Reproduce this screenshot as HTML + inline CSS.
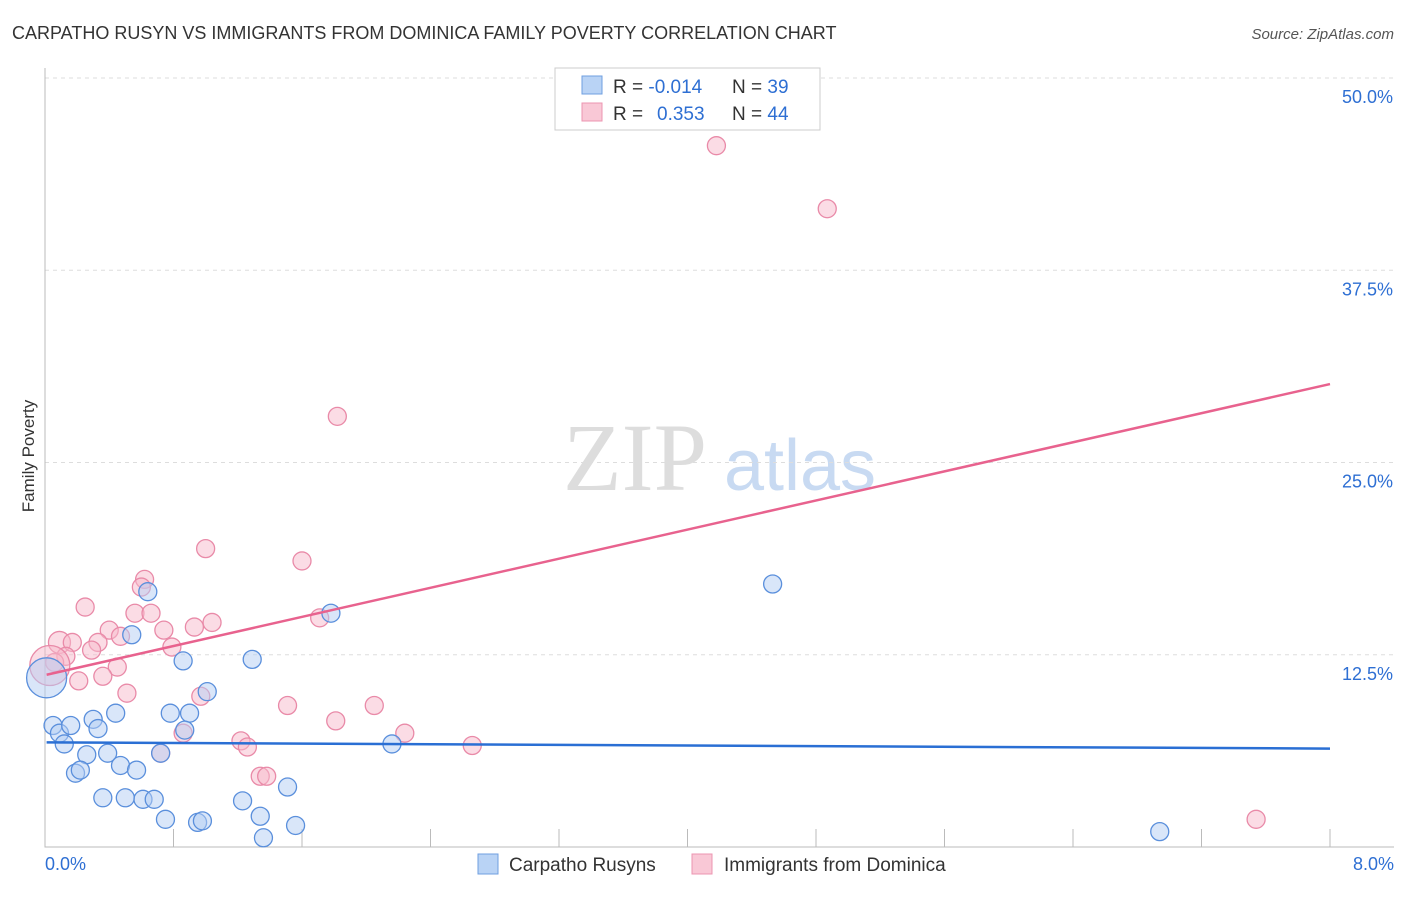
<!DOCTYPE html>
<html><head><meta charset="utf-8"><style>
body{margin:0;background:#fff;font-family:"Liberation Sans",sans-serif}
</style></head><body>
<svg id="c" width="1406" height="892" xmlns="http://www.w3.org/2000/svg" style="font-family:'Liberation Sans',sans-serif">
<text x="12" y="39" font-size="18" fill="#333">CARPATHO RUSYN VS IMMIGRANTS FROM DOMINICA FAMILY POVERTY CORRELATION CHART</text>
<text x="1394" y="39" font-size="15" fill="#555" font-style="italic" text-anchor="end">Source: ZipAtlas.com</text>
<text x="34" y="456" font-size="17" fill="#333" transform="rotate(-90 34 456)" text-anchor="middle">Family Poverty</text>
<g><text x="635" y="490" font-size="96" fill="#ddd" font-family="Liberation Serif" text-anchor="middle">ZIP</text><text x="800" y="490" font-size="72" fill="#c8daf2" text-anchor="middle">atlas</text></g>
<g id="grid"></g><g id="axes"></g><g id="marks"></g>
<g>
<rect x="555" y="68" width="265" height="62" fill="#fff" stroke="#ccc"/>
<rect x="582" y="76" width="20" height="18" fill="#b9d3f5" stroke="#6f9fe0"/>
<rect x="582" y="103" width="20" height="18" fill="#f9c8d6" stroke="#ec95b0"/>
<text x="613" y="93" font-size="19" fill="#333">R = <tspan fill="#2e6fd3">-0.014</tspan><tspan x="732">N = </tspan><tspan fill="#2e6fd3">39</tspan></text>
<text x="613" y="120" font-size="19" fill="#333">R = <tspan fill="#2e6fd3" x="657">0.353</tspan><tspan x="732">N = </tspan><tspan fill="#2e6fd3">44</tspan></text>
</g>
<g>
<rect x="478" y="854" width="20" height="20" fill="#b9d3f5" stroke="#6f9fe0"/>
<text x="509" y="871" font-size="19" fill="#333">Carpatho Rusyns</text>
<rect x="692" y="854" width="20" height="20" fill="#f9c8d6" stroke="#ec95b0"/>
<text x="724" y="871" font-size="19" fill="#333">Immigrants from Dominica</text>
</g>
</svg>
<script>
const yTicks=[12.5,25,37.5,50];
const yTickLabels=["12.5%","25.0%","37.5%","50.0%"];
const xTickLabels=["0.0%","8.0%"];
const blueX=[.05,.01,.09,.16,.12,.30,.33,.26,.19,.22,.39,.44,.47,.36,.50,.57,.61,.68,.75,.78,.86,.90,1.01,.95,.98,1.23,1.29,1.34,1.36,1.51,1.56,1.78,2.16,4.53,6.94,.64,.54,.72,.87];
const blueY=[7.9,11.0,7.4,7.9,6.7,8.3,7.7,6.0,4.8,5.0,6.1,8.7,5.3,3.2,3.2,5.0,3.1,3.1,1.8,8.7,12.1,8.7,10.1,1.6,1.7,3.0,12.2,2.0,0.6,3.9,1.4,15.2,6.7,17.1,1.0,16.6,13.8,6.1,7.6];
const pinkX=[4.18,4.87,1.82,1.00,1.60,.62,.60,.25,.56,.66,1.04,1.71,.93,.40,.74,.09,.17,.33,.47,.13,.29,.79,.06,.45,.36,.21,.51,.97,1.51,1.81,2.05,2.24,.86,.72,1.22,1.26,2.66,1.34,1.38,7.54,.03];
const pinkY=[45.6,41.5,28.0,19.4,18.6,17.4,16.9,15.6,15.2,15.2,14.6,14.9,14.3,14.1,14.1,13.3,13.3,13.3,13.7,12.4,12.8,13.0,12.0,11.7,11.1,10.8,10.0,9.8,9.2,8.2,9.2,7.4,7.4,6.1,6.9,6.5,6.6,4.6,4.6,1.8,11.8];
const blueTrend=[6.8,6.4];
const pinkTrend=[11.2,30.1];
const trendX=[0.01,8];
const NS="http://www.w3.org/2000/svg";
const X=v=>45+v/8*1285, Y=v=>847-v/12.5*192.25;
function mk(t,a,p){const e=document.createElementNS(NS,t);for(const k in a)e.setAttribute(k,a[k]);p.appendChild(e);return e;}
const grid=document.getElementById('grid'),axes=document.getElementById('axes'),marks=document.getElementById('marks');
yTicks.forEach((t,i)=>{
 const l=mk('line',{x1:45,x2:1394,y1:Y(t),y2:Y(t),stroke:'#ddd','stroke-dasharray':'4 4'},grid);
 
 
 const tx=mk('text',{x:1393,y:Y(t)+25,'font-size':18,fill:'#2e6fd3','text-anchor':'end'},axes);
 tx.textContent=yTickLabels[i];
 
 
});
const ax=mk('path',{d:'M45 68V847H1394',stroke:'#bbb',fill:'none'},axes);


for(let i=1;i<=10;i++){const t=mk('line',{x1:X(i*0.8),x2:X(i*0.8),y1:829,y2:847,stroke:'#bbb'},axes);
 
 }
[[0,'start',45],[8,'end',1394]].forEach((d,i)=>{const t=mk('text',{x:d[2],y:870,'font-size':18,fill:'#2e6fd3','text-anchor':d[1]},axes);t.textContent=xTickLabels[i];
 
 });
function pts(xs,ys,fill,stroke,name,bigIdx){xs.forEach((x,i)=>{const c=mk('circle',{cx:X(x),cy:Y(ys[i]),r:i===bigIdx?20:(i===15&&name==='pink-point'?11:9),fill:fill,'fill-opacity':0.5,stroke:stroke,'stroke-width':1.3},marks);
 
 });}
pts(pinkX,pinkY,'#f7b9cb','#e98aa8','pink-point',40);
pts(blueX,blueY,'#b3cef3','#5a8fdc','blue-point',1);
const bt=mk('line',{x1:X(trendX[0]),x2:X(trendX[1]),y1:Y(blueTrend[0]),y2:Y(blueTrend[1]),stroke:'#2a6fd4','stroke-width':2.5},marks);


const pt=mk('line',{x1:X(trendX[0]),x2:X(trendX[1]),y1:Y(pinkTrend[0]),y2:Y(pinkTrend[1]),stroke:'#e8628e','stroke-width':2.5},marks);


</script>
</body></html>
